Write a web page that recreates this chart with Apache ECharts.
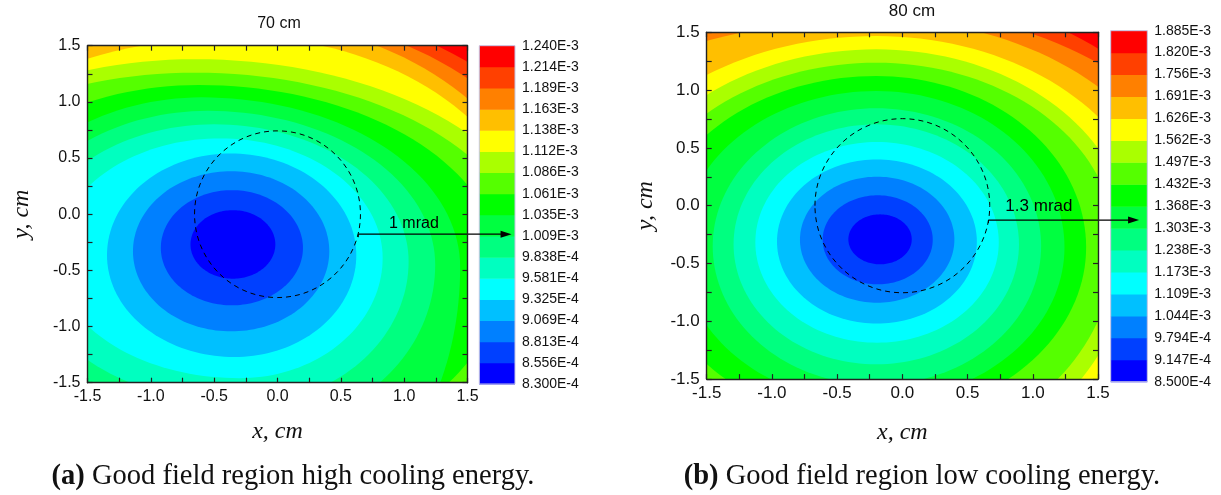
<!DOCTYPE html>
<html><head><meta charset="utf-8">
<script src="https://cdn.jsdelivr.net/npm/echarts@6/dist/echarts.min.js"></script>
<style>html,body{margin:0;padding:0;background:#fff}#c{width:1221px;height:495px}</style>
</head><body><div id="c"></div>
<script>
// ---------- data ----------
const axisRange = [-1.5, 1.5];
const axisStep = 0.5;
const levelsA = ['8.300E-4','8.556E-4','8.813E-4','9.069E-4','9.325E-4','9.581E-4','9.838E-4','1.009E-3','1.035E-3','1.061E-3','1.086E-3','1.112E-3','1.138E-3','1.163E-3','1.189E-3','1.214E-3','1.240E-3'];
const levelsB = ['8.500E-4','9.147E-4','9.794E-4','1.044E-3','1.109E-3','1.173E-3','1.238E-3','1.303E-3','1.368E-3','1.432E-3','1.497E-3','1.562E-3','1.626E-3','1.691E-3','1.756E-3','1.820E-3','1.885E-3'];
const bandColors = ['#0000ff','#0040ff','#0080ff','#00c0ff','#00ffff','#00ffc0','#00ff80','#00ff40','#00ff00','#55ff00','#aaff00','#ffff00','#ffbf00','#ff8000','#ff4000','#ff0000'];
// contour lines, level 1..15 (cm):
// [y of the side points, x right, y top, x left, y bottom, x of top point, x of bottom point]
const contoursA = [
 [-0.269, -0.017, 0.036, -0.687, -0.574, -0.352, -0.352],
 [-0.300,  0.201, 0.214, -0.921, -0.811, -0.360, -0.360],
 [-0.330,  0.409, 0.383, -1.141, -1.043, -0.366, -0.366],
 [-0.365,  0.622, 0.541, -1.346, -1.271, -0.370, -0.340],
 [-0.390,  0.830, 0.675, -1.750, -1.460, -0.450, -0.300],
 [-0.420,  1.035, 0.800, -1.970, -1.690, -0.500, -0.270],
 [-0.450,  1.245, 0.920, -2.150, -1.870, -0.550, -0.100],
 [-0.470,  1.442, 1.040, -2.320, -2.500, -0.600,  0.300],
 [-0.500,  1.768, 1.150, -2.700, -2.050, -0.620,  0.000],
 [-0.500,  2.000, 1.260, -3.200, -2.300, -0.650,  0.000],
 [-0.500,  2.175, 1.380, -3.300, -2.500, -0.650,  0.000],
 [-0.500,  2.090, 1.578, -3.150, -2.700, -0.300,  0.000],
 [-0.500,  2.180, 1.724, -3.900, -2.900, -0.300,  0.000],
 [-0.500,  2.400, 1.794, -4.100, -3.100, -0.300,  0.000],
 [-0.500,  2.572, 1.881, -4.300, -3.300, -0.300,  0.000]
];
const contoursB = [
 [-0.291, 0.072, -0.075, -0.414, -0.507, -0.171, -0.171],
 [-0.295, 0.233,  0.090, -0.611, -0.680, -0.189, -0.189],
 [-0.294, 0.399,  0.251, -0.785, -0.839, -0.193, -0.193],
 [-0.310, 0.571,  0.400, -0.961, -1.020, -0.195, -0.195],
 [-0.317, 0.739,  0.551, -1.127, -1.185, -0.194, -0.194],
 [-0.334, 0.894,  0.704, -1.294, -1.372, -0.200, -0.200],
 [-0.350, 1.064,  0.843, -1.454, -1.550, -0.200, -0.200],
 [-0.360, 1.243,  0.992, -1.696, -1.700, -0.200, -0.250],
 [-0.360, 1.409,  1.122, -1.922, -1.860, -0.200, -0.300],
 [-0.330, 1.630,  1.237, -2.070, -2.130, -0.200, -0.200],
 [-0.330, 1.752,  1.353, -2.220, -2.300, -0.200, -0.200],
 [-0.330, 1.949,  1.468, -2.430, -2.530, -0.200, -0.200],
 [-0.330, 2.180,  1.613, -3.230, -2.730, -0.200, -0.200],
 [-0.330, 2.453,  1.705, -3.600, -2.930, -0.200, -0.200],
 [-0.330, 2.467,  1.863, -3.800, -3.130, -0.200, -0.200]
];
// dashed ring (centre x, centre y, radius x, radius y), arrow (x start, x end, y), label (text, x, y)
const ringA = [0, 0, 0.655, 0.742];
const ringB = [0, 0, 0.67, 0.753];
const arrowA = [0.638, 1.848, -0.178];
const arrowB = [0.66, 1.815, -0.124];
const noteA = ['1 mrad', 1.077, -0.085];
const noteB = ['1.3 mrad', 1.047, -0.005];
const titles = ['70 cm', '80 cm'];
const captions = ['(a)', 'Good field region high cooling energy.', '(b)', 'Good field region low cooling energy.'];

// ---------- drawing helpers ----------
function outline(c, api) {
  const [cy, xE, yN, xW, yS, xN, xS] = c, pts = [], n = 40;
  for (let q = 0; q < 4; q++) {
    for (let s = 0; s < n; s++) {
      const t = (q + s / n) * Math.PI / 2, co = Math.cos(t), si = Math.sin(t);
      let x, y;
      if (q === 0) { x = xN + (xE - xN) * co; y = cy + (yN - cy) * si; }
      else if (q === 1) { x = xN + (xN - xW) * co; y = cy + (yN - cy) * si; }
      else if (q === 2) { x = xS + (xS - xW) * co; y = cy + (cy - yS) * si; }
      else { x = xS + (xE - xS) * co; y = cy + (cy - yS) * si; }
      pts.push(api.coord([x, y]));
    }
  }
  return pts;
}
function contourSeries(contours, xi, yi) {
  const n = contours.length;
  return {
    type: 'custom', xAxisIndex: xi, yAxisIndex: yi, clip: true, silent: true, z: 2,
    data: Array.from({length: n + 1}, (_, i) => [i, 0]),
    renderItem: function (params, api) {
      const i = params.dataIndex;
      if (i === 0) {
        const a = api.coord([axisRange[0], axisRange[1]]), b = api.coord([axisRange[1], axisRange[0]]);
        return {type: 'rect', shape: {x: a[0], y: a[1], width: b[0]-a[0], height: b[1]-a[1]}, style: {fill: bandColors[n]}};
      }
      const k = n - i;
      return {type: 'polygon', shape: {points: outline(contours[k], api)}, style: {fill: bandColors[k], stroke: null}};
    }
  };
}
function noteSeries(ring, arrow, note, xi, yi, fs) {
  return {
    type: 'custom', xAxisIndex: xi, yAxisIndex: yi, clip: false, silent: true, z: 5,
    data: [[0, 0]],
    renderItem: function (params, api) {
      const c = api.coord([ring[0], ring[1]]);
      const rx = api.size([ring[2], 0])[0], ry = api.size([0, ring[3]])[1];
      const s = api.coord([arrow[0], arrow[2]]), e = api.coord([arrow[1], arrow[2]]);
      const t = api.coord([note[1], note[2]]);
      return {type: 'group', children: [
        {type: 'ellipse', shape: {cx: c[0], cy: c[1], rx: rx, ry: ry}, style: {fill: null, stroke: '#000', lineWidth: 1, lineDash: [5, 4]}},
        {type: 'line', shape: {x1: s[0], y1: s[1], x2: e[0]-6, y2: e[1]}, style: {stroke: '#000', lineWidth: 1.2}},
        {type: 'line', shape: {x1: s[0], y1: s[1], x2: s[0], y2: s[1]+3}, style: {stroke: '#000', lineWidth: 1}},
        {type: 'polygon', shape: {points: [[e[0], e[1]], [e[0]-11, e[1]-3.5], [e[0]-11, e[1]+3.5]]}, style: {fill: '#000'}},
        {type: 'text', style: {x: t[0], y: t[1], text: note[0], align: 'center', verticalAlign: 'middle', fontFamily: 'Liberation Sans', fontSize: fs, fill: '#000'}}
      ]};
    }
  };
}
function barSeries(xi, yi) {
  const n = bandColors.length;
  return {
    type: 'custom', xAxisIndex: xi, yAxisIndex: yi, clip: false, silent: true,
    data: Array.from({length: n + 1}, (_, i) => [0, i]),
    renderItem: function (params, api) {
      const i = params.dataIndex;
      if (i === n) {
        const a = api.coord([0, n]), b = api.coord([1, 0]);
        return {type: 'rect', shape: {x: a[0], y: a[1], width: b[0]-a[0], height: b[1]-a[1]}, style: {fill: null, stroke: '#c4c4e4', lineWidth: 1}};
      }
      const a = api.coord([0, i + 1]), b = api.coord([1, i]);
      return {type: 'rect', shape: {x: a[0], y: a[1], width: b[0]-a[0], height: b[1]-a[1] + 0.5}, style: {fill: bandColors[i]}};
    }
  };
}
const frame = {show: true, onZero: false, lineStyle: {color: '#222', width: 1.4}};
const fmt = v => v.toFixed(1);
const tick = {show: true, inside: true, length: 5, lineStyle: {color: '#222', width: 1.2}};
const minor = {show: true, splitNumber: 2, length: 5, lineStyle: {color: '#222', width: 1.2}};
const nameStyle = {fontFamily: 'Liberation Serif', fontStyle: 'italic', fontSize: 24, color: '#111'};
function plotX(gi, pos, show, fs, gap) {
  return {gridIndex: gi, type: 'value', position: pos, min: axisRange[0], max: axisRange[1], interval: axisStep, z: 10,
    axisLine: frame, axisTick: tick, minorTick: minor, splitLine: {show: false}, minorSplitLine: {show: false},
    axisLabel: {show: show, formatter: fmt, fontFamily: 'Liberation Sans', fontSize: fs, color: '#111', margin: 6},
    name: show ? 'x, cm' : '', nameLocation: 'middle', nameGap: gap, nameTextStyle: nameStyle};
}
function plotY(gi, pos, show, fs, gap) {
  return {gridIndex: gi, type: 'value', position: pos, min: axisRange[0], max: axisRange[1], interval: axisStep, z: 10,
    axisLine: frame, axisTick: tick, minorTick: minor, splitLine: {show: false}, minorSplitLine: {show: false},
    axisLabel: {show: show, formatter: fmt, fontFamily: 'Liberation Sans', fontSize: fs, color: '#111', margin: 7},
    name: show ? 'y, cm' : '', nameLocation: 'middle', nameGap: gap, nameTextStyle: nameStyle};
}
function barX(gi) { return {gridIndex: gi, type: 'value', min: 0, max: 1, show: false}; }
function barY(gi, levels) {
  return {gridIndex: gi, type: 'value', position: 'right', min: 0, max: levels.length - 1, interval: 1,
    axisLine: {show: false}, axisTick: {show: false}, splitLine: {show: false},
    axisLabel: {formatter: v => levels[Math.round(v)], fontFamily: 'Liberation Sans', fontSize: 14, color: '#111', margin: 7}};
}
const capStyle = (t1, t2, x) => ({type: 'text', x: x, y: 477, style: {text: '{b|' + t1 + '} ' + t2, align: 'center', verticalAlign: 'middle',
  fontFamily: 'Liberation Serif', fontSize: 28.5, fill: '#111', rich: {b: {fontWeight: 'bold', fontFamily: 'Liberation Serif', fontSize: 28.5}}}});

const chart = echarts.init(document.getElementById('c'), null, {renderer: 'canvas'});
chart.setOption({
  animation: false,
  backgroundColor: '#fff',
  grid: [
    {left: 87.5, top: 45.7, width: 380, height: 337},
    {left: 479.3, top: 45.7, width: 35.7, height: 338.3},
    {left: 706.7, top: 32.3, width: 391.3, height: 346.8},
    {left: 1110.7, top: 30.7, width: 36.6, height: 351}
  ],
  xAxis: [plotX(0, 'bottom', true, 16, 37), plotX(0, 'top', false, 16, 0), barX(1),
          plotX(2, 'bottom', true, 17, 42), plotX(2, 'top', false, 17, 0), barX(3)],
  yAxis: [plotY(0, 'left', true, 16, 54), plotY(0, 'right', false, 16, 0), barY(1, levelsA),
          plotY(2, 'left', true, 17, 49), plotY(2, 'right', false, 17, 0), barY(3, levelsB)],
  series: [
    contourSeries(contoursA, 0, 0), noteSeries(ringA, arrowA, noteA, 0, 0, 16), barSeries(2, 2),
    contourSeries(contoursB, 3, 3), noteSeries(ringB, arrowB, noteB, 3, 3, 17), barSeries(5, 5)
  ],
  graphic: [
    {type: 'text', x: 279, y: 24, style: {text: titles[0], align: 'center', verticalAlign: 'middle', fontFamily: 'Liberation Sans', fontSize: 16, fill: '#111'}},
    {type: 'text', x: 912, y: 11, style: {text: titles[1], align: 'center', verticalAlign: 'middle', fontFamily: 'Liberation Sans', fontSize: 17, fill: '#111'}},
    capStyle(captions[0], captions[1], 293),
    capStyle(captions[2], captions[3], 922)
  ]
});
</script></body></html>
